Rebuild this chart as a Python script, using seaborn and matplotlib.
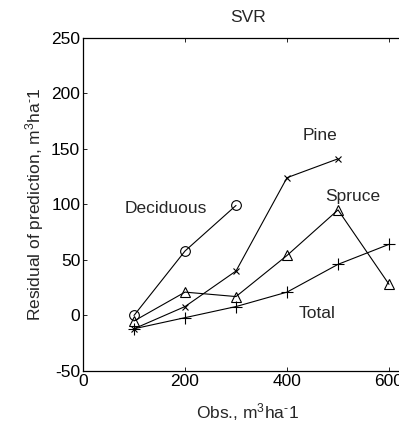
import matplotlib
matplotlib.use("Agg")
import matplotlib.pyplot as plt
import seaborn as sns
import pandas as pd

obs_dec = [100, 200, 300]
res_dec = [0, 58, 99]
obs_pine = [100, 200, 300, 400, 500]
res_pine = [-12, 8, 40, 124, 141]
obs_spruce = [100, 200, 300, 400, 500, 600]
res_spruce = [-5, 21, 17, 54, 95, 28]
obs_total = [100, 200, 300, 400, 500, 600]
res_total = [-12, -2, 8, 21, 46, 64]

labels = ["Deciduous", "Pine", "Spruce", "Total"]
label_x = [163, 465, 529, 459]
label_y = [96, 162, 107, 2]

sns.set_theme(style="white")
plt.rcParams['font.family'] = ['Liberation Sans', 'DejaVu Sans']
plt.rcParams['mathtext.fontset'] = 'custom'
plt.rcParams['mathtext.rm'] = 'Liberation Sans'
plt.rcParams['axes.unicode_minus'] = False

FS = 12.5

fig = plt.figure(figsize=(3.99, 4.24), dpi=100)
ax = fig.add_axes([83/399, 53/424, 330/399, 333.3/424])

series = [
    (obs_dec, res_dec, "o", 7),
    (obs_pine, res_pine, "x", 5),
    (obs_spruce, res_spruce, "^", 7),
    (obs_total, res_total, "+", 8),
]
for xs, ys, m, ms in series:
    df = pd.DataFrame({"x": xs, "y": ys})
    sns.lineplot(data=df, x="x", y="y", ax=ax, color="black", linewidth=0.8,
                 marker=m, markersize=ms, markerfacecolor="none",
                 markeredgecolor="black", markeredgewidth=0.8)

for t, x, y in zip(labels, label_x, label_y):
    ax.text(x, y, t, ha="center", va="center", fontsize=FS)

ax.set_xlim(0, 647)
ax.set_ylim(-50, 250)
ax.set_xticks([0, 200, 400, 600])
ax.set_yticks([-50, 0, 50, 100, 150, 200, 250])
ax.tick_params(direction="in", length=3, width=0.6, labelsize=FS, pad=2,
               top=True, right=True, bottom=True, left=True, colors="black")
for s in ax.spines.values():
    s.set_color("black")
    s.set_linewidth(0.9)
unit = r"m$\mathregular{^3}$ha$\mathregular{^{\text{-}}}$1"
ax.set_title("SVR", fontsize=FS, pad=11)
ax.set_xlabel("Obs., " + unit, fontsize=FS, labelpad=9)
ax.set_ylabel("Residual of prediction, " + unit, fontsize=FS, labelpad=4)

fig.savefig("out.png", dpi=100)
